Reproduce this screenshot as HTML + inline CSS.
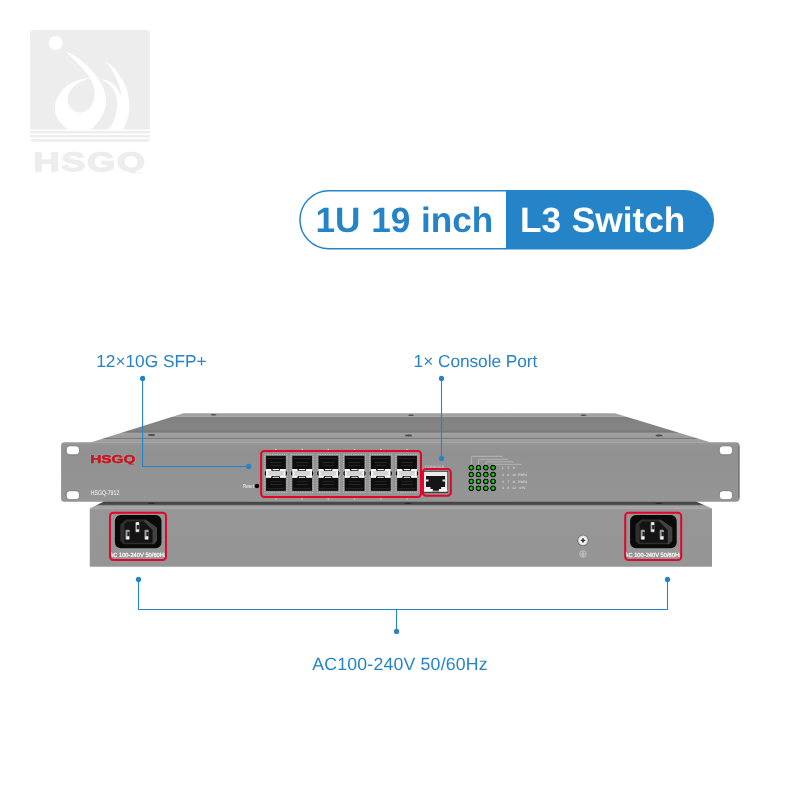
<!DOCTYPE html>
<html lang="en">
<head>
<meta charset="utf-8">
<title>1U 19 inch L3 Switch</title>
<style>
html,body{margin:0;padding:0;background:#fff;}
body{width:800px;height:800px;overflow:hidden;position:relative;font-family:"Liberation Sans",Arial,sans-serif;}
svg{position:absolute;left:0;top:0;display:block;}
text{font-family:"Liberation Sans",Arial,sans-serif;}
.lbl{font-size:17.3px;fill:#2584c8;}
.pill{font-size:35.2px;font-weight:bold;}
</style>
</head>
<body>
<svg width="800" height="800" viewBox="0 0 800 800" text-rendering="geometricPrecision" style="will-change:transform">
<defs>
  <linearGradient id="gTop" x1="0" y1="0" x2="0" y2="1">
    <stop offset="0" stop-color="#a0a0a0"/>
    <stop offset="0.10" stop-color="#a2a2a2"/>
    <stop offset="0.125" stop-color="#aeaeae"/>
    <stop offset="0.14" stop-color="#808080"/>
    <stop offset="0.4" stop-color="#848484"/>
    <stop offset="0.57" stop-color="#838383"/>
    <stop offset="0.63" stop-color="#797979"/>
    <stop offset="0.655" stop-color="#7c7c7c"/>
    <stop offset="0.67" stop-color="#a2a2a2"/>
    <stop offset="0.83" stop-color="#9a9a9a"/>
    <stop offset="0.845" stop-color="#7a7a7a"/>
    <stop offset="0.865" stop-color="#7a7a7a"/>
    <stop offset="0.88" stop-color="#a0a0a0"/>
    <stop offset="1" stop-color="#9c9c9c"/>
  </linearGradient>
  <linearGradient id="gFront" x1="0" y1="0" x2="0" y2="1">
    <stop offset="0" stop-color="#999999"/>
    <stop offset="0.06" stop-color="#939393"/>
    <stop offset="0.2" stop-color="#919191"/>
    <stop offset="1" stop-color="#959595"/>
  </linearGradient>
  <linearGradient id="gRear" x1="0" y1="0" x2="0" y2="1">
    <stop offset="0" stop-color="#9c9c9c"/>
    <stop offset="0.05" stop-color="#969696"/>
    <stop offset="1" stop-color="#959595"/>
  </linearGradient>
  <linearGradient id="gShadow" x1="0" y1="0" x2="0" y2="1">
    <stop offset="0" stop-color="#5a5a5a"/>
    <stop offset="0.12" stop-color="#454545"/>
    <stop offset="0.4" stop-color="#4a4a4a"/>
    <stop offset="0.56" stop-color="#8c8c8c"/>
    <stop offset="0.66" stop-color="#a4a4a4"/>
    <stop offset="1" stop-color="#a2a2a2"/>
  </linearGradient>
  <radialGradient id="gLed" cx="0.5" cy="0.5" r="0.5">
    <stop offset="0" stop-color="#38e838"/>
    <stop offset="0.3" stop-color="#1cc01c"/>
    <stop offset="0.55" stop-color="#0a6a0a"/>
    <stop offset="0.75" stop-color="#061206"/>
    <stop offset="0.9" stop-color="#0d0d0d"/>
    <stop offset="1" stop-color="#7a6f7a"/>
  </radialGradient>
  <radialGradient id="gScrew" cx="0.5" cy="0.5" r="0.5">
    <stop offset="0" stop-color="#f0f0f0"/>
    <stop offset="0.4" stop-color="#ffffff"/>
    <stop offset="0.7" stop-color="#dedede"/>
    <stop offset="0.8" stop-color="#b0b0b0"/>
    <stop offset="0.9" stop-color="#6e6e6e"/>
    <stop offset="1" stop-color="#8c8c8c"/>
  </radialGradient>
  <clipPath id="logoClip"><path d="M30 34a4 4 0 0 1 4-4h112a4 4 0 0 1 4 4v95.6h-120z"/></clipPath>
  <clipPath id="wmClip"><rect x="30" y="148" width="120" height="25.200"/></clipPath>
  <clipPath id="hsClip"><rect x="86" y="452" width="54" height="12.500"/></clipPath>
  <filter id="halo" x="-10%" y="-30%" width="120%" height="160%" color-interpolation-filters="sRGB">
    <feMorphology in="SourceAlpha" operator="dilate" radius="0.7" result="d"/>
    <feGaussianBlur in="d" stdDeviation="0.45" result="b"/>
    <feFlood flood-color="#84a8a8" flood-opacity="0.75" result="c"/>
    <feComposite in="c" in2="b" operator="in" result="h"/>
    <feMerge><feMergeNode in="h"/><feMergeNode in="SourceGraphic"/></feMerge>
  </filter>
  <clipPath id="iecClipL"><rect x="110.9" y="549" width="54.2" height="11"/></clipPath>
  <clipPath id="iecClipR"><rect x="625.9" y="549" width="54.2" height="11"/></clipPath>
  <g id="sfp">
    <rect x="-1.150" y="-1.250" width="22.250" height="37.900" fill="#8c8c8c" stroke="#c9c9c9" stroke-width="0.800" stroke-dasharray="1.400 1"/>
    <rect x="0.200" y="0.100" width="19.700" height="35" fill="#0e0e0e"/>
    <rect x="1.600" y="2.200" width="16.800" height="0.800" fill="#2b2b2b"/>
    <rect x="4" y="6.400" width="12" height="0.800" fill="#303030"/>
    <rect x="4.500" y="9.200" width="11" height="0.800" fill="#2b2b2b"/>
    <rect x="4.500" y="25.300" width="11" height="0.800" fill="#2b2b2b"/>
    <rect x="4" y="28.200" width="12" height="0.800" fill="#303030"/>
    <rect x="1.600" y="32.200" width="16.800" height="0.800" fill="#2b2b2b"/>
    <rect x="0" y="13.250" width="20" height="8.850" fill="#fbfbfb"/>
    <path d="M1.300 15.300h17.400l-1.300 2.400 1.300 2.400h-17.400l1.300-2.400z" fill="#d4d4d4"/>
    <rect x="5.300" y="12.700" width="8.800" height="2.600" rx="1.200" fill="#0e0e0e"/>
    <rect x="5.300" y="20.150" width="8.800" height="2.600" rx="1.200" fill="#0e0e0e"/>
    <rect x="6.600" y="13.300" width="6.600" height="1.150" rx="0.570" fill="#fff"/>
    <rect x="6.600" y="20.950" width="6.600" height="1.150" rx="0.570" fill="#fff"/>
    <path d="M0.150 15.100c-1.700 0.900-1.700 4.400 0 5.300zM19.850 15.100c1.700 0.900 1.700 4.400 0 5.300z" fill="#0e0e0e"/>
  </g>
  <g id="iec">
    <rect x="1" y="1" width="56" height="47.300" rx="3.300" fill="none" stroke="#e3062b" stroke-width="2"/>
    <rect x="5.300" y="3.100" width="47.400" height="33.800" rx="6" fill="#9c9c9c"/>
    <rect x="5.900" y="3.300" width="46.600" height="33.300" rx="5.800" fill="#0a0a0a"/>
    <path d="M17 7.850h19.400l11.600 8.250v13l-3.200 3.500h-30.300l-3.200-3.500v-16.300z" fill="#2f2f2f"/>
    <path d="M36.400 7.850l11.600 8.250v13l-3.200 3.500h-1.400v-14.500l-8.600-8.300z" fill="#424242"/>
    <path d="M18 9.900h16.800l8.600 8.300v12.800h-28v-18.300z" fill="#141414"/>
    <g fill="#9e9e9e">
      <rect x="26.400" y="10.200" width="4" height="10.300" rx="1"/>
      <rect x="16.500" y="18.100" width="4.200" height="10" rx="1"/>
      <rect x="35.500" y="18.100" width="4.200" height="10" rx="1"/>
    </g>
    <g fill="#262626">
      <rect x="28" y="13.300" width="2.400" height="4.400"/>
      <rect x="18.400" y="20.300" width="2.300" height="4.200"/>
      <rect x="37.400" y="20.300" width="2.300" height="4.200"/>
    </g>
    <g fill="#f4f4f4">
      <rect x="27.100" y="10.700" width="2.700" height="2.500"/>
      <rect x="27.100" y="17.800" width="2.700" height="2"/>
      <rect x="17.300" y="24.700" width="2.700" height="2.800"/>
      <rect x="36.300" y="24.700" width="2.700" height="2.800"/>
    </g>
  </g>
</defs>

<!-- ===== watermark logo ===== -->
<g id="logo">
  <path d="M30 34a4 4 0 0 1 4-4h112a4 4 0 0 1 4 4v95.600h-120z" fill="#ededed"/>
  <rect x="30" y="131.100" width="120" height="2.300" fill="#ededed"/>
  <rect x="30" y="135.100" width="120" height="2.300" fill="#ededed"/>
  <path d="M30 139h120a3.500 3.500 0 0 1-3.500 2.700h-113a3.500 3.500 0 0 1-3.500-2.700z" fill="#ededed"/>
  <g clip-path="url(#logoClip)" fill="#fff">
    <circle cx="55.700" cy="43" r="7"/>
    <path d="M65.2 50.7C66.42 51.35 69.78 52.92 72.5 54.6C75.22 56.28 78.68 58.55 81.5 60.8C84.32 63.05 86.97 65.57 89.4 68.1C91.83 70.63 94.23 73.56 96.1 76C97.97 78.44 99.28 80.5 100.6 82.75C101.92 85 103.15 87.25 104 89.5C104.85 91.75 105.38 94 105.7 96.25C106.02 98.5 106.08 100.75 105.9 103C105.72 105.25 105.38 107.32 104.6 109.75C103.82 112.18 102.8 114.97 101.2 117.6C99.6 120.22 96.6 123.62 95 125.5C93.4 127.38 92.77 127.82 91.6 128.9C90.43 129.98 88.6 131.48 88 132L72 132C71.52 131.67 70.14 130.71 69.1 130C68.06 129.29 67.25 129.07 65.75 127.75C64.25 126.43 61.69 124.16 60.1 122.1C58.51 120.04 57.03 117.83 56.2 115.4C55.37 112.97 55.1 109.94 55.1 107.5C55.1 105.06 55.37 103.18 56.2 100.75C57.03 98.32 58.32 95.34 60.1 92.9C61.88 90.46 64.27 88.07 66.9 86.1C69.53 84.13 73.09 82.32 75.9 81.1C78.71 79.88 81.42 79.27 83.75 78.8C86.08 78.33 88.88 78.34 89.9 78.25C89.25 77.31 87.58 74.66 86 72.6C84.42 70.54 82.65 68.33 80.4 65.9C78.15 63.47 75.03 60.53 72.5 58C69.97 55.47 66.42 51.92 65.2 50.7Z"/>
    <path d="M105.1 61.15C106.04 61.84 108.68 63.39 110.75 65.3C112.82 67.21 115.44 69.88 117.5 72.6C119.56 75.32 121.5 78.6 123.1 81.6C124.7 84.6 126.16 87.6 127.1 90.6C128.04 93.6 128.38 96.78 128.75 99.6C129.12 102.42 129.39 104.68 129.3 107.5C129.21 110.32 128.85 113.68 128.2 116.5C127.55 119.32 126.33 122.15 125.4 124.4C124.47 126.65 123.23 128.73 122.6 130C121.97 131.27 121.77 131.67 121.6 132L106 132C106.23 131.67 106.42 131.27 107.4 130C108.38 128.73 110.59 126.65 111.9 124.4C113.21 122.15 114.42 119.32 115.25 116.5C116.08 113.68 116.62 110.12 116.9 107.5C117.18 104.88 117.18 103 116.9 100.75C116.62 98.5 116.08 96.25 115.25 94C114.42 91.75 113.4 89.22 111.9 87.25C110.4 85.28 108.13 83.55 106.25 82.2C104.37 80.85 101.54 79.66 100.6 79.15C101.73 79.38 105.33 79.71 107.4 80.5C109.47 81.29 111.32 82.4 113 83.9C114.68 85.4 116.15 87.44 117.5 89.5C118.85 91.56 120.5 95.12 121.1 96.25C121.02 95.31 121.07 92.66 120.65 90.6C120.23 88.54 119.5 86.33 118.6 83.9C117.7 81.47 116.56 78.63 115.25 76C113.94 73.37 112.44 70.57 110.75 68.1C109.06 65.62 106.04 62.31 105.1 61.15Z"/>
  </g>
  <path d="M89.9 78.9C91.4 79.47 92 81.95 92.75 83.9C93.5 85.85 94.12 88.35 94.4 90.6C94.68 92.85 94.68 95.33 94.4 97.4C94.12 99.47 93.58 101.13 92.75 103C91.92 104.87 90.9 107.1 89.4 108.6C87.9 110.1 85.63 111.33 83.75 112C81.87 112.67 79.97 112.97 78.1 112.6C76.22 112.22 74 110.97 72.5 109.75C71 108.53 69.95 106.94 69.1 105.25C68.25 103.56 67.48 101.47 67.4 99.6C67.32 97.72 67.85 95.87 68.6 94C69.35 92.13 70.5 90.08 71.9 88.4C73.3 86.72 75.03 85.22 77 83.9C78.97 82.58 81.6 81.33 83.75 80.5C85.9 79.67 88.4 78.33 89.9 78.9Z" fill="#ededed"/>
  <g clip-path="url(#wmClip)"><text transform="translate(33.500 170.900) scale(1.352 1)" font-size="26.600" font-weight="bold" letter-spacing="1.400" fill="#ededed" stroke="#ededed" stroke-width="1.300" stroke-linejoin="miter">HSGQ</text></g>
</g>

<!-- ===== title pill ===== -->
<g id="title">
  <path d="M505.300 190h179a29.800 29.800 0 0 1 0 59.600h-179z" fill="#2584c8"/>
  <path d="M506 190.750h-177a29.050 29.050 0 0 0 0 58.100h177" fill="#fff" stroke="#2584c8" stroke-width="1.500"/>
  <text class="pill" x="315.500" y="232.300" fill="#2584c8" word-spacing="0.900">1U 19 inch</text>
  <text class="pill" x="520.100" y="232.300" fill="#fff" word-spacing="0.900">L3 Switch</text>
</g>

<!-- ===== callout labels ===== -->
<text class="lbl" x="96.200" y="366.800">12×10G SFP+</text>
<text class="lbl" x="413.600" y="366.800" letter-spacing="-0.050">1× Console Port</text>
<text x="312.300" y="670" font-size="17.700" letter-spacing="0.190" fill="#2584c8">AC100-240V 50/60Hz</text>

<!-- ===== device: front unit ===== -->
<g id="front">
  <path d="M183.500 413.200h431.500l96 29.300h-620.500z" fill="url(#gTop)"/>
  <g fill="#4a4a4a">
    <ellipse cx="151.500" cy="435" rx="3.500" ry="0.900"/>
    <ellipse cx="408.500" cy="435.500" rx="3.500" ry="0.900"/>
    <ellipse cx="659" cy="435.500" rx="3.500" ry="0.900"/>
    <ellipse cx="213.500" cy="414.800" rx="3" ry="0.800"/>
    <ellipse cx="411" cy="415.200" rx="3" ry="0.800"/>
    <ellipse cx="583.500" cy="415.200" rx="3" ry="0.800"/>
  </g>
  <rect x="61.100" y="442.300" width="678.400" height="59.400" rx="3.200" fill="url(#gFront)"/>
  <rect x="738" y="445.500" width="1.500" height="53" fill="#777"/>
  
  <g fill="#fff" stroke="#6f6f6f" stroke-width="0.800">
    <rect x="66.300" y="445.800" width="13.200" height="9" rx="3.500"/>
    <rect x="66.300" y="490.700" width="13.200" height="9" rx="3.500"/>
    <rect x="719.300" y="445.800" width="13.200" height="9" rx="3.500"/>
    <rect x="719.300" y="490.700" width="13.200" height="9" rx="3.500"/>
  </g>
  <g clip-path="url(#hsClip)" filter="url(#halo)"><text transform="translate(90.200 463.400) scale(1.350 1)" font-size="11.400" font-weight="bold" fill="#d40f1a" stroke="#d40f1a" stroke-width="0.450" stroke-linejoin="round">HSGQ</text></g>
  <text x="90.700" y="494.900" font-size="6.800" fill="#f8f8f8" textLength="28.600" lengthAdjust="spacingAndGlyphs">HSGQ-7912</text>
  <text x="242.900" y="488" font-size="5.800" fill="#f8f8f8" textLength="11" lengthAdjust="spacingAndGlyphs">Reset</text>
  <circle cx="257" cy="486.050" r="2.250" fill="#060606"/>

  <g>
    <use href="#sfp" x="265.9" y="455.75"/>
    <use href="#sfp" x="292.12" y="455.75"/>
    <use href="#sfp" x="318.34" y="455.75"/>
    <use href="#sfp" x="344.56" y="455.75"/>
    <use href="#sfp" x="370.78" y="455.75"/>
    <use href="#sfp" x="397" y="455.75"/>
    <g fill="#e6e6e6"><rect x="275.2" y="448.9" width="1.4" height="0.8"/><rect x="275.2" y="498.6" width="1.4" height="0.8"/><rect x="301.42" y="448.9" width="1.4" height="0.8"/><rect x="301.42" y="498.6" width="1.4" height="0.8"/><rect x="327.64" y="448.9" width="1.4" height="0.8"/><rect x="327.64" y="498.6" width="1.4" height="0.8"/><rect x="353.86" y="448.9" width="1.4" height="0.8"/><rect x="353.86" y="498.6" width="1.4" height="0.8"/><rect x="380.08" y="448.9" width="1.4" height="0.8"/><rect x="380.08" y="498.6" width="1.4" height="0.8"/><rect x="406.3" y="448.9" width="1.4" height="0.8"/><rect x="406.3" y="498.6" width="1.4" height="0.8"/></g>
    <rect x="261.100" y="450.900" width="159.900" height="46" rx="3.200" fill="none" stroke="#e3062b" stroke-width="2"/>
  </g>
  <g>
    <text x="425" y="467.500" font-size="3.600" fill="#d4d4d4" textLength="19.400" lengthAdjust="spacingAndGlyphs">CONSOLE</text>
    <rect x="423.200" y="470.900" width="25" height="22.200" fill="#3c3c3c"/>
    <rect x="423.900" y="471.800" width="23.400" height="19.800" fill="#ececec"/>
    <path d="M426 475.900h19.100v11.200h-4v1.900h-2.200v1.800h-6v-1.800h-2.400v-1.900h-4.500z" fill="#151515"/>
    <path d="M426 479.500h2.600v2h-2.600zM442.500 479.500h2.600v2h-2.600z" fill="#ddd"/>
    <path d="M424 489.600h8v1.800h-8zM439.200 489.600h8v1.800h-8z" fill="#fff"/>
    <rect x="422.850" y="469" width="27.950" height="26.800" rx="3.200" fill="none" stroke="#e3062b" stroke-width="2.100"/>
  </g>
  <g fill="none" stroke="#b9b9b9" stroke-width="0.900">
    <path d="M471.300 464.500v-7a1.200 1.200 0 0 1 1.200-1.200h29.500l1 1"/>
    <path d="M478.500 464.500v-4a1.200 1.200 0 0 1 1.200-1.200h27.500l1 1"/>
    <path d="M485.800 464.500v-1.500a1.200 1.200 0 0 1 1.200-1.200h25.700l1 1"/>
    <path d="M493 464.300h28l1 1"/>
  </g>
  <g fill="url(#gLed)"><circle cx="471.3" cy="467.7" r="3"/><circle cx="478.5" cy="467.7" r="3"/><circle cx="485.8" cy="467.7" r="3"/><circle cx="493.1" cy="467.7" r="3"/><circle cx="471.3" cy="474.6" r="3"/><circle cx="478.5" cy="474.6" r="3"/><circle cx="485.8" cy="474.6" r="3"/><circle cx="493.1" cy="474.6" r="3"/><circle cx="471.3" cy="481.4" r="3"/><circle cx="478.5" cy="481.4" r="3"/><circle cx="485.8" cy="481.4" r="3"/><circle cx="493.1" cy="481.4" r="3"/><circle cx="471.3" cy="488.3" r="3"/><circle cx="478.5" cy="488.3" r="3"/><circle cx="485.8" cy="488.3" r="3"/><circle cx="493.1" cy="488.3" r="3"/></g>
  <g font-size="3.200" fill="#e4e4e4">
    <text x="502" y="468.900">1</text><text x="507.500" y="468.900">5</text><text x="513" y="468.900">9</text>
    <text x="502" y="475.700">2</text><text x="507.500" y="475.700">6</text><text x="512.300" y="475.700">10</text><text x="518" y="475.700">PWR1</text>
    <text x="502" y="482.500">3</text><text x="507.500" y="482.500">7</text><text x="512.300" y="482.500">11</text><text x="518" y="482.500">PWR2</text>
    <text x="502" y="489.400">4</text><text x="507.500" y="489.400">8</text><text x="512.300" y="489.400">12</text><text x="519" y="489.400">SYS</text>
  </g>
</g>

<!-- ===== device: rear unit ===== -->
<g id="rear">
  <path d="M104 501.600h592l16 6.900h-622.250z" fill="url(#gShadow)"/>
  <rect x="89.750" y="508.200" width="622.250" height="58.500" rx="0.800" fill="url(#gRear)"/>
  <ellipse cx="151.300" cy="503.200" rx="3.500" ry="0.800" fill="#2a2a2a"/>
  <ellipse cx="408" cy="503.200" rx="3.500" ry="0.800" fill="#2a2a2a"/>
  <ellipse cx="658.800" cy="503.200" rx="3.500" ry="0.800" fill="#2a2a2a"/>
  <use href="#iec" x="109" y="511.700"/>
  <use href="#iec" x="624.200" y="511.700"/>
  <g clip-path="url(#iecClipL)"><text x="109.400" y="557.200" font-size="6.100" fill="#fff" stroke="#fff" stroke-width="0.200" textLength="57.400" lengthAdjust="spacingAndGlyphs">AC 100-240V 50/60Hz</text></g>
  <g clip-path="url(#iecClipR)"><text x="624.600" y="557.200" font-size="6.100" fill="#fff" stroke="#fff" stroke-width="0.200" textLength="57.400" lengthAdjust="spacingAndGlyphs">AC 100-240V 50/60Hz</text></g>
  <circle cx="583" cy="540.400" r="6" fill="url(#gScrew)"/>
  <path d="M583 538.100l0.700 1.600 1.600 0.700-1.600 0.700-0.700 1.600-0.700-1.600-1.600-0.700 1.600-0.700z" fill="#333" stroke="#333" stroke-width="0.700" stroke-linejoin="round"/>
  <circle cx="583" cy="554" r="3.200" fill="none" stroke="#c6c6c6" stroke-width="0.900"/>
  <path d="M583 551.500v2.500M581 554h4M581.700 555.200h2.600M582.400 556.300h1.200" stroke="#dedede" stroke-width="0.700"/>
</g>

<!-- ===== callout lines ===== -->
<g fill="none" stroke="#2584c8" stroke-width="1.100">
  <path d="M142.600 378.500V466.450H249"/>
  <path d="M441.500 378.500V458.500"/>
  <path d="M138.500 579V609.500H667.500V579"/>
  <path d="M396.550 609.500V631"/>
</g>
<g fill="#2584c8">
  <circle cx="142.600" cy="378.400" r="2.600"/>
  <circle cx="248.700" cy="466.450" r="2.600"/>
  <circle cx="441.500" cy="378.400" r="2.600"/>
  <circle cx="441.500" cy="458.400" r="2.600"/>
  <circle cx="138.500" cy="579.400" r="2.600"/>
  <circle cx="667.500" cy="579.400" r="2.600"/>
  <circle cx="396.550" cy="631.400" r="2.600"/>
</g>
</svg>
</body>
</html>
